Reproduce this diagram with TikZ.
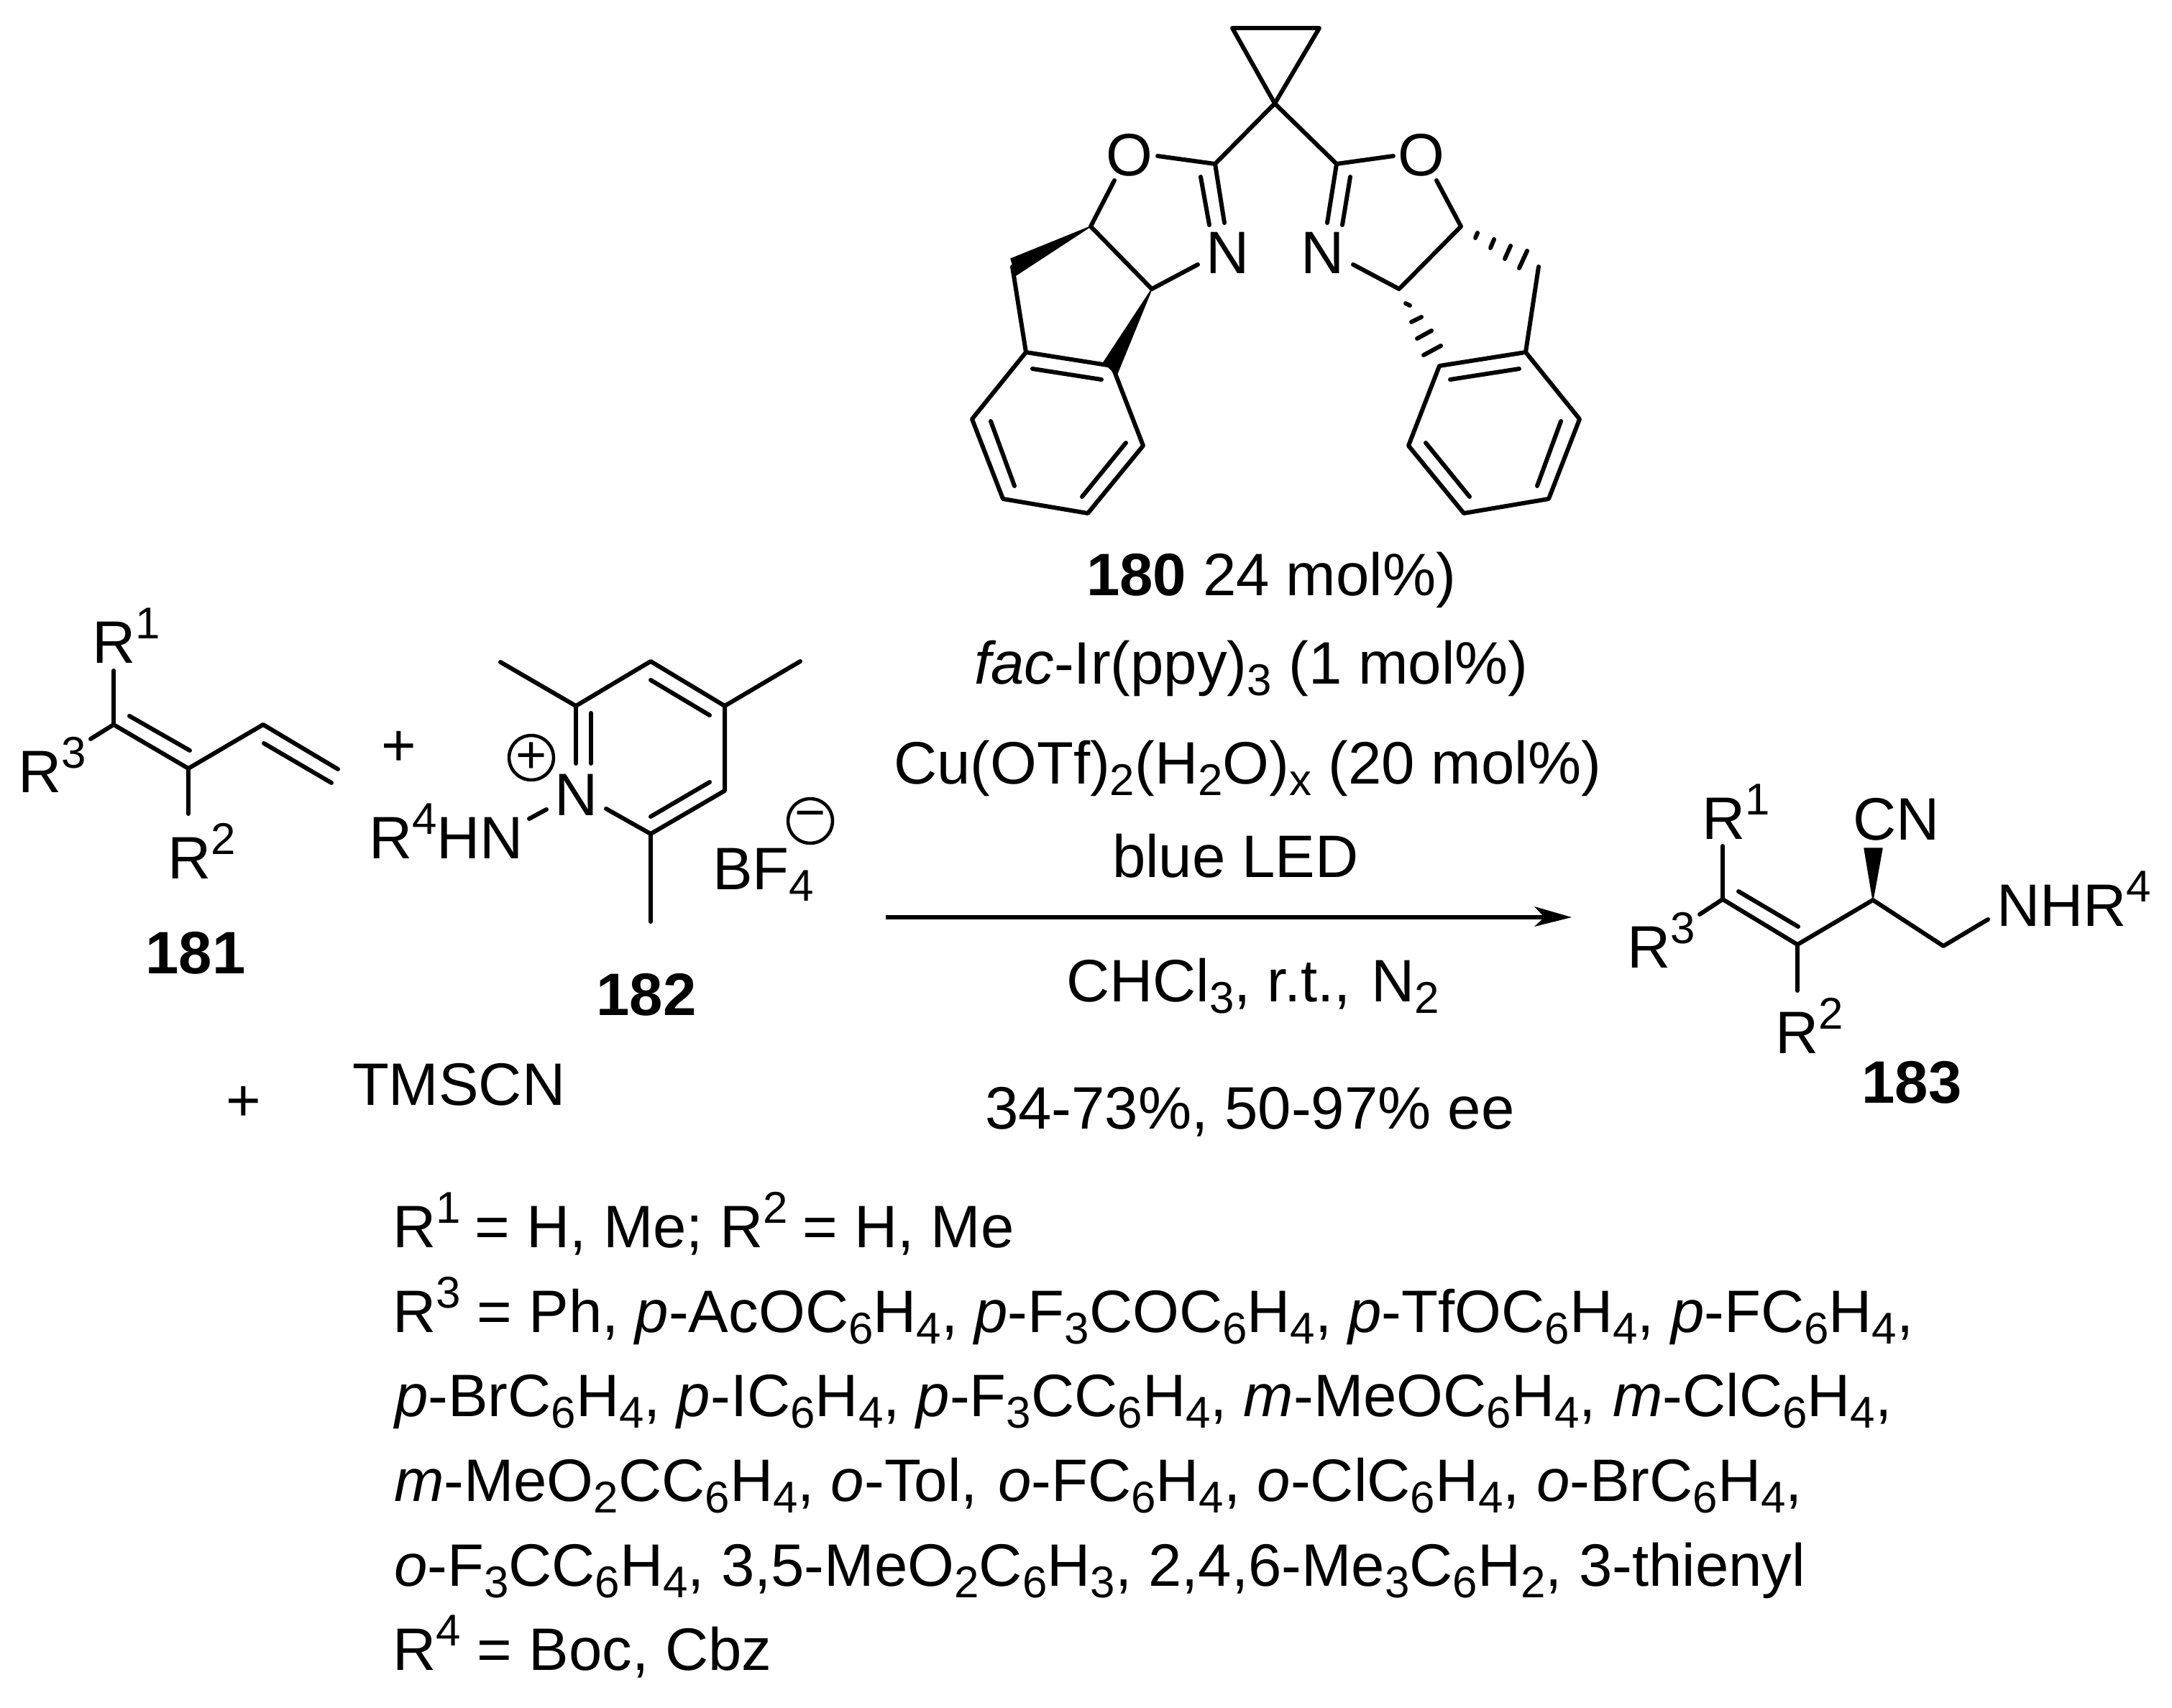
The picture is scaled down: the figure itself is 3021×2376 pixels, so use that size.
\documentclass[tikz,border=0pt]{standalone}
\usepackage{fontspec}
\setmainfont{Liberation Sans}
\newcommand{\Sup}[1]{\raisebox{9.4pt}{\fontsize{17.6}{20}\selectfont #1}}
\newcommand{\Sub}[1]{\raisebox{-4.7pt}{\fontsize{17.6}{20}\selectfont #1}}
\tikzset{
  bond/.style={line width=1.7pt,line cap=round,line join=round},
  wedgeb/.style={fill=black,draw=black,line width=0.4pt,line join=round},
  hashb/.style={line width=1.7pt,line cap=round},
  txt/.style={anchor=base west,inner sep=0pt,outer sep=0pt,font=\fontsize{23.7}{28}\selectfont},
  atom/.style={anchor=base,inner sep=0pt,outer sep=0pt,font=\fontsize{23.7}{28}\selectfont},
  lbl/.style={anchor=base,inner sep=0pt,outer sep=0pt,font=\fontsize{23.7}{28}\selectfont\bfseries},
  sign/.style={anchor=center,inner sep=0pt,outer sep=0pt,font=\fontsize{23.7}{28}\selectfont},
  charge/.style={circle,draw,line width=1.3pt,minimum size=17.6pt,inner sep=0pt,outer sep=0pt,font=\fontsize{21}{24}\selectfont},
}
\begin{document}
\begin{tikzpicture}[x=0.01cm,y=-0.01cm]
\useasboundingbox (0,0) rectangle (3021,2376);
% ---------- ligand 180 ----------
\coordinate (cpa) at (1714,39);
\coordinate (cpb) at (1835,39);
\coordinate (cpc) at (1773,144);
\coordinate (c2l) at (1690,228);
\coordinate (c2r) at (1859,228);
\coordinate (c5l) at (1517,315);
\coordinate (c4l) at (1602,402);
\coordinate (c5r) at (2032,315);
\coordinate (c4r) at (1946,402);
\coordinate (chl) at (1408,371);
\coordinate (chr) at (2140,371);
\coordinate (a1) at (1427,490);
\coordinate (a2) at (1547,509);
\coordinate (a3) at (1590,620);
\coordinate (a4) at (1513,714);
\coordinate (a5) at (1395,694);
\coordinate (a6) at (1352,583);
\coordinate (b1) at (2122,490);
\coordinate (b2) at (2002,509);
\coordinate (b3) at (1959,620);
\coordinate (b4) at (2036,714);
\coordinate (b5) at (2154,694);
\coordinate (b6) at (2197,583);
\node[atom] (ol) at (1571,245) {O};
\node[atom] (or) at (1977,245) {O};
\node[atom] (nl) at (1708,381) {N};
\node[atom] (nr) at (1840,381) {N};
\draw[bond] (cpa)--(cpb)--(cpc)--cycle;
\draw[bond] (c2l)--(cpc)--(c2r);
\draw[bond] (1610,217)--(c2l)--(1703,310);
\draw[bond] (1670,246)--(1682,313);
\draw[bond] (1938,217)--(c2r)--(1846,310);
\draw[bond] (1878,246)--(1867,313);
\draw[bond] (1550,251)--(c5l)--(c4l)--(1666,368);
\draw[bond] (1998,251)--(c5r)--(c4r)--(1882,368);
\fill[wedgeb] (c5l)--(1406,360)--(1413,383)--cycle;
\fill[wedgeb] (c4l)--(1535,504)--(1553,522)--cycle;
\draw[bond] (chl)--(a1);
\draw[bond] (a1)--(a2)--(a3)--(a4)--(a5)--(a6)--cycle;
\draw[bond] (1436,513)--(1532,528);
\draw[bond] (1566,616)--(1505,691);
\draw[bond] (1378,586)--(1411,676);
\draw[hashb] (2055,324)--(2052,331);
\draw[hashb] (2078,333)--(2073,345);
\draw[hashb] (2101,342)--(2093,360);
\draw[hashb] (2124,349)--(2113,373);
\draw[hashb] (1955,422)--(1961,425);
\draw[hashb] (1963,448)--(1977,441);
\draw[hashb] (1971,471)--(1991,460);
\draw[hashb] (1980,494)--(2004,481);
\draw[bond] (chr)--(b1);
\draw[bond] (b1)--(b2)--(b3)--(b4)--(b5)--(b6)--cycle;
\draw[bond] (2113,513)--(2017,528);
\draw[bond] (1983,616)--(2044,691);
\draw[bond] (2171,586)--(2138,676);
% ---------- diene 181 ----------
\coordinate (d1) at (158,1008);
\coordinate (d2) at (262,1069);
\coordinate (d3) at (366,1008);
\coordinate (d4) at (470,1070);
\node[txt] (r1a) at (128,922) {R\Sup{1}};
\node[txt] (r3a) at (25,1102) {R\Sup{3}};
\node[txt] (r2a) at (233,1222) {R\Sup{2}};
\draw[bond] (158,933)--(d1);
\draw[bond] (126,1028)--(d1)--(d2)--(d3)--(d4);
\draw[bond] (d2)--(262,1132);
\draw[bond] (180,996)--(264,1044);
\draw[bond] (367,1034)--(461,1089);
\node[sign] (p1) at (555,1041) {+};
\node[sign] (p2) at (339,1535) {+};
\node[lbl] (l181) at (272,1354) {181};
% ---------- pyridinium 182 ----------
\coordinate (py2) at (801,982);
\coordinate (py3) at (905,920);
\coordinate (py4) at (1008,982);
\coordinate (py5) at (1008,1100);
\coordinate (py6) at (905,1160);
\node[atom] (pyn) at (802,1134) {N};
\node[txt] (r4hn) at (513,1194) {R\Sup{4}HN};
\node[charge] (cplus) at (739,1054) {+};
\node[txt] (bf) at (991,1237) {BF\Sub{4}};
\node[charge] (cminus) at (1127,1142) {−};
\draw[bond] (801,1062)--(py2)--(py3)--(py4)--(py5)--(py6)--(843,1125);
\draw[bond] (822,992)--(822,1062);
\draw[bond] (905,946)--(987,995);
\draw[bond] (987,1088)--(905,1136);
\draw[bond] (py2)--(696,921);
\draw[bond] (py4)--(1113,920);
\draw[bond] (py6)--(905,1282);
\draw[bond] (736,1139)--(760,1126);
\node[lbl] (l182) at (899,1412) {182};
\node[txt] (tms) at (490,1537) {TMSCN};
% ---------- conditions ----------
\node[txt] (c1) at (1511,828) {\textbf{180} 24 mol\%)};
\node[txt] (c2) at (1355,951) {\textit{fac}-Ir(ppy)\Sub{3} (1 mol\%)};
\node[txt] (c3) at (1243,1090) {Cu(OTf)\Sub{2}(H\Sub{2}O)\Sub{x} (20 mol\%)};
\node[txt] (c4) at (1547,1220) {blue LED};
\coordinate (ars) at (1232,1276);
\coordinate (art) at (2186,1276);
\draw[line width=1.5pt] (ars)--(2150,1276);
\fill (art)--(2134,1261)--(2148,1276)--(2134,1289)--cycle;
\node[txt] (c5) at (1483,1393) {CHCl\Sub{3}, r.t.,\kern1.5pt{} N\Sub{2}};
\node[txt] (c6) at (1370,1570) {34-73\%, 50-97\% ee};
% ---------- product 183 ----------
\coordinate (e1) at (2396,1251);
\coordinate (e2) at (2500,1314);
\coordinate (e3) at (2605,1252);
\coordinate (e4) at (2703,1316);
\node[txt] (r1b) at (2367,1167) {R\Sup{1}};
\node[txt] (cn) at (2577,1168) {CN};
\node[txt] (nhr) at (2777,1288) {NHR\Sup{4}};
\node[txt] (r3b) at (2263,1346) {R\Sup{3}};
\node[txt] (r2b) at (2469,1465) {R\Sup{2}};
\node[lbl] (l183) at (2659,1534) {183};
\draw[bond] (2396,1177)--(e1);
\draw[bond] (2364,1272)--(e1)--(e2)--(e3)--(e4)--(2765,1279);
\draw[bond] (e2)--(2500,1378);
\draw[bond] (2418,1240)--(2501,1289);
\fill[wedgeb] (e3)--(2593,1180)--(2618,1180)--cycle;
% ---------- substituent list ----------
\node[txt] (s1) at (546,1735) {R\Sup{1}\kern-.8pt{} = H, Me; R\Sup{2}\kern-.8pt{} = H, Me};
\node[txt] (s2) at (546,1853) {R\Sup{3} = Ph, \textit{p}-AcOC\Sub{6}H\Sub{4}, \textit{p}-F\Sub{3}COC\Sub{6}H\Sub{4}, \textit{p}-TfOC\Sub{6}H\Sub{4}, \textit{p}-FC\Sub{6}H\Sub{4},};
\node[txt] (s3) at (549,1970) {\textit{p}-BrC\Sub{6}H\Sub{4}, \textit{p}-IC\Sub{6}H\Sub{4}, \textit{p}-F\Sub{3}CC\Sub{6}H\Sub{4}, \textit{m}-MeOC\Sub{6}H\Sub{4}, \textit{m}-ClC\Sub{6}H\Sub{4},};
\node[txt] (s4) at (548,2088) {\textit{m}-MeO\Sub{2}CC\Sub{6}H\Sub{4}, \textit{o}-Tol,\kern1.5pt{} \textit{o}-FC\Sub{6}H\Sub{4}, \textit{o}-ClC\Sub{6}H\Sub{4}, \textit{o}-BrC\Sub{6}H\Sub{4},};
\node[txt] (s5) at (548,2206) {\textit{o}-F\Sub{3}CC\Sub{6}H\Sub{4}, 3,5-MeO\Sub{2}C\Sub{6}H\Sub{3}, 2,4,6-Me\Sub{3}C\Sub{6}H\Sub{2}, 3-thienyl};
\node[txt] (s6) at (546,2323) {R\Sup{4} = Boc, Cbz};
\end{tikzpicture}
\end{document}
